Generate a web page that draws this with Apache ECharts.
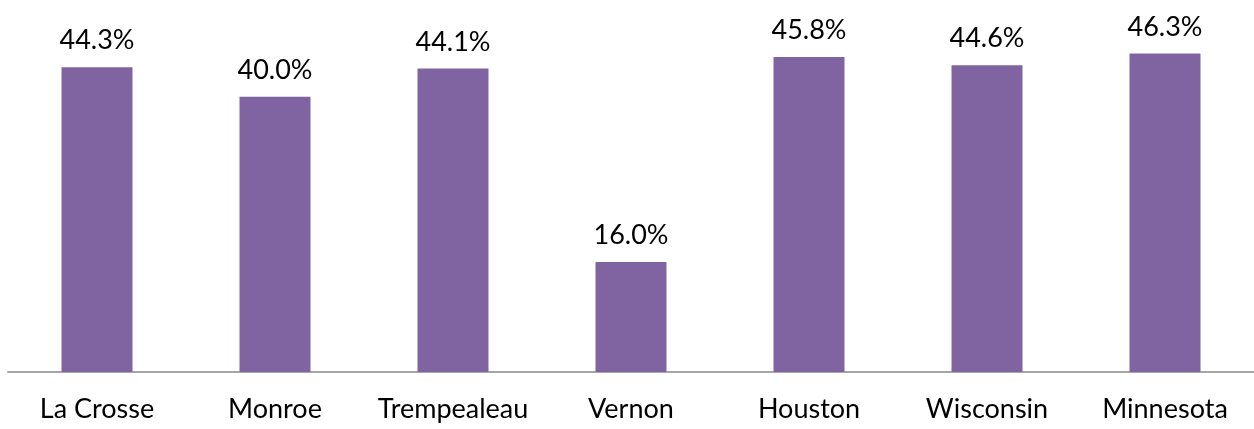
<!DOCTYPE html>
<html>
<head>
<meta charset="utf-8">
<script src="https://cdn.jsdelivr.net/npm/echarts@6/dist/echarts.min.js"></script>
<style>
  html, body { margin: 0; padding: 0; background: #fff; }
  #chart { width: 1254px; height: 429px; }
</style>
</head>
<body>
<div id="chart"></div>
<script>
// areas along the x axis
var categories = ['La Crosse', 'Monroe', 'Trempealeau', 'Vernon', 'Houston', 'Wisconsin', 'Minnesota'];
// percent values
var values = [44.3, 40.0, 44.1, 16.0, 45.8, 44.6, 46.3];

var chart = echarts.init(document.getElementById('chart'));
chart.setOption({
  animation: false,
  grid: { left: 8, right: 0, top: 28, bottom: 57 },
  xAxis: {
    type: 'category',
    data: categories,
    axisLine: { lineStyle: { color: '#a6a6a6', width: 2 } },
    axisTick: { show: false },
    axisLabel: {
      interval: 0,
      hideOverlap: false,
      color: '#000',
      fontFamily: 'Lato, "Open Sans", sans-serif',
      fontSize: 27,
      margin: 24
    }
  },
  yAxis: {
    type: 'value',
    min: 0,
    max: 50,
    show: false,
    splitLine: { show: false }
  },
  series: [{
    type: 'bar',
    data: values,
    barWidth: 71,
    itemStyle: { color: '#8064a2' },
    label: {
      show: true,
      position: 'top',
      distance: 13,
      color: '#000',
      fontFamily: 'Lato, "Open Sans", sans-serif',
      fontSize: 27,
      formatter: function (p) { return p.value.toFixed(1) + '%'; }
    }
  }]
});
</script>
</body>
</html>
